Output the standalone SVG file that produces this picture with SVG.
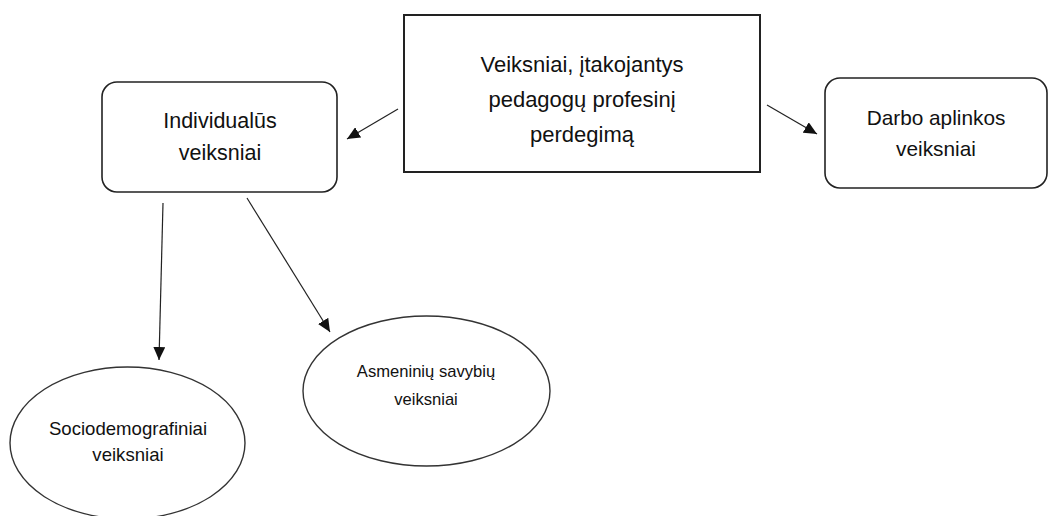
<svg xmlns="http://www.w3.org/2000/svg" width="1049" height="516" viewBox="0 0 1049 516">
<style>
.box{fill:#fff;stroke:#222;stroke-width:1.6}
.main{fill:#fff;stroke:#222;stroke-width:2}
.ell{fill:#fff;stroke:#333;stroke-width:1.4}
.t{font-family:"Liberation Sans",Arial,sans-serif;fill:#111;text-anchor:middle}
.conn{stroke:#222;stroke-width:1.2;fill:none;marker-end:url(#arr)}
</style>
<defs>
<marker id="arr" markerUnits="userSpaceOnUse" markerWidth="14" markerHeight="12" refX="13" refY="6" orient="auto">
<path d="M0,0 L13,6 L0,12 Z" fill="#111"/>
</marker>
</defs>
<rect width="1049" height="516" fill="#fff"/>
<g id="connectors">
<line class="conn" x1="398" y1="109" x2="347" y2="139"/>
<line class="conn" x1="767" y1="105" x2="817" y2="134"/>
<line class="conn" x1="163" y1="203" x2="159" y2="360"/>
<line class="conn" x1="247" y1="198" x2="330" y2="332"/>
</g>
<g id="node-main">
<rect class="main" x="404" y="15" width="356" height="157"/>
<text class="t" font-size="22" x="582" y="72">Veiksniai, įtakojantys</text>
<text class="t" font-size="22" x="582" y="107">pedagogų profesinį</text>
<text class="t" font-size="22" x="582" y="142">perdegimą</text>
</g>
<g id="node-individual">
<rect class="box" x="102" y="82" width="235" height="110" rx="15"/>
<text class="t" font-size="21.5" x="220" y="128">Individualūs</text>
<text class="t" font-size="21.5" x="220" y="160">veiksniai</text>
</g>
<g id="node-darbo">
<rect class="box" x="825" y="78" width="222" height="110" rx="15"/>
<text class="t" font-size="20.8" x="936" y="125">Darbo aplinkos</text>
<text class="t" font-size="20.8" x="936" y="156">veiksniai</text>
</g>
<g id="node-socio">
<ellipse class="ell" cx="127.5" cy="443" rx="117.5" ry="76"/>
<text class="t" font-size="18.6" x="128" y="435">Sociodemografiniai</text>
<text class="t" font-size="18.6" x="128" y="461">veiksniai</text>
</g>
<g id="node-asmen">
<ellipse class="ell" cx="426.5" cy="391" rx="123.5" ry="75"/>
<text class="t" font-size="16.6" x="426" y="377">Asmeninių savybių</text>
<text class="t" font-size="16.6" x="426" y="405">veiksniai</text>
</g>
</svg>
